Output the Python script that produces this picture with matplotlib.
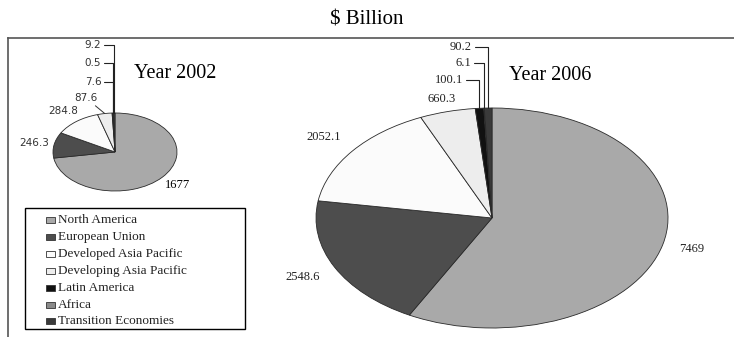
import matplotlib
matplotlib.use("Agg")
import matplotlib.pyplot as plt
from matplotlib.patches import Rectangle
import numpy as np

# Regional totals, $ billion
regions = ["North America", "European Union", "Developed Asia Pacific",
           "Developing Asia Pacific", "Latin America", "Africa",
           "Transition Economies"]
values_2002 = [1677, 246.3, 284.8, 87.6, 7.6, 0.5, 9.2]
values_2006 = [7469, 2548.6, 2052.1, 660.3, 100.1, 6.1, 90.2]
colors = ["#a9a9a9", "#4d4d4d", "#fbfbfb", "#ededed", "#111111",
          "#8a8a8a", "#3a3a3a"]

plt.rcParams['font.family'] = ['Liberation Serif', 'DejaVu Serif']

W, H = 734, 337
fig = plt.figure(figsize=(W / 100, H / 100), dpi=100)

# full-figure layer in pixel units (y downward) for frame, titles, legend
over = fig.add_axes([0, 0, 1, 1])
over.set_xlim(0, W)
over.set_ylim(H, 0)
over.axis('off')


def px_axes(l, t, r, b):
    return fig.add_axes([l / W, 1 - b / H, (r - l) / W, (b - t) / H])


def draw_pie(ax, values):
    wedges, _ = ax.pie(values, colors=colors, startangle=90,
                       counterclock=False,
                       wedgeprops=dict(edgecolor='#2a2a2a', linewidth=0.6))
    for w in wedges:
        w.set_clip_on(False)
    ax.set_aspect('auto')
    ax.set_xlim(-1, 1)
    ax.set_ylim(-1, 1)
    ax.axis('off')
    return [np.deg2rad((w.theta1 + w.theta2) / 2) for w in wedges]


def fmt(v):
    return f"{v:g}"


# ---- Year 2002 ----
ax02 = px_axes(53, 113, 177, 191)
mids02 = draw_pie(ax02, values_2002)
small_font = dict(family='DejaVu Sans', fontsize=7.5, color='#333333')
# outside labels for the larger slices
for i, r in [(0, 1.32), (1, 1.32), (2, 1.35)]:
    kw = dict(fontsize=9) if i == 0 else small_font
    ax02.text(r * np.cos(mids02[i]), r * np.sin(mids02[i]), fmt(values_2002[i]),
              ha='center', va='center', **kw)
# leader labels for the thin slices
ax02.annotate(fmt(values_2002[3]), xy=(np.cos(mids02[3]), np.sin(mids02[3])),
              xytext=(86, 98), textcoords=over.transData, ha='center',
              va='center', annotation_clip=False,
              arrowprops=dict(arrowstyle='-', color='#333', lw=0.7,
                              shrinkA=0, shrinkB=0), **small_font)
for i, ty in [(4, 82), (5, 63), (6, 45)]:
    ax02.annotate(fmt(values_2002[i]), xy=(np.cos(mids02[i]), np.sin(mids02[i])),
                  xytext=(93, ty), textcoords=over.transData, ha='center',
                  va='center', annotation_clip=False,
                  arrowprops=dict(arrowstyle='-', color='#222', lw=0.8,
                                  shrinkA=0, shrinkB=0,
                                  connectionstyle='angle,angleA=0,angleB=90,rad=0'),
                  **small_font)

# ---- Year 2006 ----
ax06 = px_axes(316, 108, 668, 328)
mids06 = draw_pie(ax06, values_2006)
for i, r in [(0, 1.17), (1, 1.2), (2, 1.21), (3, 1.12)]:
    ax06.text(r * np.cos(mids06[i]), r * np.sin(mids06[i]), fmt(values_2006[i]),
              ha='center', va='center', fontsize=9, color='#222')
for i, (tx, ty) in [(4, (449, 80)), (5, (463, 63)), (6, (461, 47))]:
    ax06.annotate(fmt(values_2006[i]), xy=(np.cos(mids06[i]), np.sin(mids06[i])),
                  xytext=(tx, ty), textcoords=over.transData, ha='center',
                  va='center', fontsize=9, color='#222', annotation_clip=False,
                  arrowprops=dict(arrowstyle='-', color='#222', lw=0.8,
                                  shrinkA=0, shrinkB=0,
                                  connectionstyle='angle,angleA=0,angleB=90,rad=0'))

# ---- titles and frame ----
over.text(367, 20, "$ Billion", ha='center', va='center', fontsize=15)
over.text(175, 73, "Year 2002", ha='center', va='center', fontsize=14.5)
over.text(550, 75, "Year 2006", ha='center', va='center', fontsize=14.5)
over.plot([8, W], [38, 38], color='#555555', lw=1.2, clip_on=False)
over.plot([8, 8], [38, H], color='#555555', lw=1.2, clip_on=False)

# ---- legend ----
over.add_patch(Rectangle((25, 208), 220, 121, facecolor='none',
                         edgecolor='black', lw=1))
for i, (name, c) in enumerate(zip(regions, colors)):
    y = 220 + i * 16.9
    over.add_patch(Rectangle((46, y - 3), 9, 6, facecolor=c,
                             edgecolor='#333333', lw=0.6))
    over.text(58, y, name, ha='left', va='center', fontsize=9.5, color='#222')

fig.savefig("out.png", dpi=100)
